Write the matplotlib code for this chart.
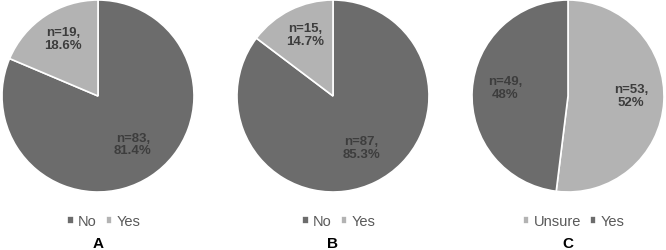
import numpy as np
import matplotlib.pyplot as plt

plt.rcParams['font.family'] = ['Liberation Sans', 'DejaVu Sans']

# data for the three pies
labels_a = ['No', 'Yes']
counts_a = [83, 19]
pcts_a = ['81.4%', '18.6%']

labels_b = ['No', 'Yes']
counts_b = [87, 15]
pcts_b = ['85.3%', '14.7%']

labels_c = ['Unsure', 'Yes']
counts_c = [53, 49]
pcts_c = ['52%', '48%']

panel_names = ['A', 'B', 'C']

dark = '#6c6c6c'
light = '#b3b3b3'
text_col = '#3d3d3d'

colors_a = [dark, light]
colors_b = [dark, light]
colors_c = [light, dark]

fig = plt.figure(figsize=(6.66, 2.51), dpi=100)

W, H = 666, 251
centers_x = [98, 333, 568]
center_y = 97
radius = 96

panels = [
    (labels_a, counts_a, pcts_a, colors_a),
    (labels_b, counts_b, pcts_b, colors_b),
    (labels_c, counts_c, pcts_c, colors_c),
]

for i, (labels, counts, pcts, colors) in enumerate(panels):
    cx = centers_x[i]
    ax = fig.add_axes([(cx - radius) / W, (H - center_y - radius) / H,
                       2 * radius / W, 2 * radius / H])
    wedges, _ = ax.pie(counts, colors=colors, startangle=90, counterclock=False,
                       wedgeprops=dict(edgecolor='white', linewidth=1.2))
    # labels inside the slices
    total = sum(counts)
    start = 90.0
    for cnt, pct in zip(counts, pcts):
        span = cnt / total * 360
        mid = np.deg2rad(start - span / 2)
        start -= span
        ax.text(0.66 * np.cos(mid), 0.66 * np.sin(mid) + 0.05, 'n=%d,\n%s' % (cnt, pct),
                ha='center', va='center', fontsize=9.5, fontweight='bold',
                color=text_col, linespacing=1.1)
    ax.set_xlim(-1, 1)
    ax.set_ylim(-1, 1)
    ax.set_aspect('equal')
    ax.axis('off')

    leg = ax.legend(wedges, labels, loc='center', bbox_to_anchor=(0.53, -0.15),
                    ncol=2, frameon=False, fontsize=10.5, handlelength=0.45,
                    handleheight=0.45, handletextpad=0.3, columnspacing=0.6)
    for t in leg.get_texts():
        t.set_color('#595959')

    fig.text(cx / W, 7 / H, panel_names[i], ha='center', va='center',
             fontsize=11, fontweight='bold', color='black')

fig.savefig('out.png', dpi=100)
